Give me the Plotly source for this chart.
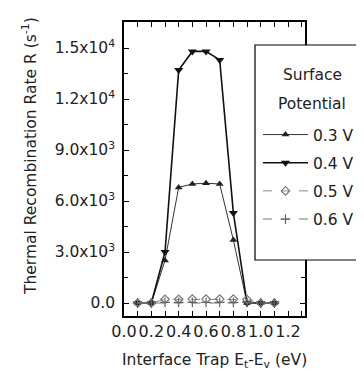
import plotly.graph_objects as go

x_vals = [0.1, 0.2, 0.3, 0.4, 0.5, 0.6, 0.7, 0.8, 0.9, 1.0, 1.1]
r_03 = [0, 0, 2500, 6800, 7000, 7050, 7000, 3700, 0, 0, 0]
r_04 = [0, 0, 3000, 13700, 14800, 14800, 14300, 5300, 0, 0, 0]
r_05 = [0, 0, 220, 220, 230, 230, 230, 230, 200, 0, 0]
r_06 = [0, 0, 40, 40, 40, 40, 40, 40, 40, 0, 0]
series_names = ["0.3 V", "0.4 V", "0.5 V", "0.6 V"]

y_tickvals = [0, 3000, 6000, 9000, 12000, 15000]
y_ticktext = ["0.0", "3.0x10<sup>3</sup>", "6.0x10<sup>3</sup>", "9.0x10<sup>3</sup>",
              "1.2x10<sup>4</sup>", "1.5x10<sup>4</sup>"]
y_minor = [1500, 4500, 7500, 10500, 13500, 16500]
x_tickvals = [0.0, 0.2, 0.4, 0.6, 0.8, 1.0, 1.2]
x_ticktext = ["0.0", "0.2", "0.4", "0.6", "0.8", "1.0", "1.2"]
x_minor = [0.1, 0.3, 0.5, 0.7, 0.9, 1.1, 1.3]

FONT = "DejaVu Sans"
TXT = "#222222"

W, H = 364, 370
ML, MR, MT, MB = 116, 67, 14, 62
PW, PH = W - ML - MR, H - MT - MB


def px_to_paper_x(px):
    return (px - ML) / PW


def px_to_paper_y(py):
    return (H - MB - py) / PH


styles = [
    dict(line=dict(color="#333333", width=1), marker=dict(symbol="triangle-up", size=7, color="#222222")),
    dict(line=dict(color="#111111", width=1.6), marker=dict(symbol="triangle-down", size=8, color="#111111")),
    dict(line=dict(color="#888888", width=1, dash="dash"), marker=dict(symbol="diamond-open", size=6.5, color="#777777", line=dict(width=1.2))),
    dict(line=dict(color="#777777", width=1, dash="dash"), marker=dict(symbol="cross-thin-open", size=7, color="#666666", line=dict(width=1.2))),
]

fig = go.Figure()
for name, ys, st in zip(series_names, [r_03, r_04, r_05, r_06], styles):
    fig.add_trace(go.Scatter(x=x_vals, y=ys, name=name, mode="lines+markers",
                             legendgroup=name, **st))

axis_common = dict(showline=True, linecolor="black", linewidth=1.5, mirror="allticks",
                   ticks="inside", ticklen=5, tickcolor="black", tickwidth=1.2,
                   showgrid=False, zeroline=False)

fig.update_xaxes(range=[0, 1.324], tickvals=x_tickvals, ticktext=x_ticktext, tickangle=0,
                 tickfont=dict(family=FONT, size=16, color=TXT),
                 minor=dict(tickvals=x_minor, ticks="inside", ticklen=5, tickcolor="black", tickwidth=1.2),
                 **axis_common)
fig.update_yaxes(range=[-765, 16530], tickvals=y_tickvals, ticktext=y_ticktext,
                 tickfont=dict(family=FONT, size=15.5, color=TXT), ticklabelstandoff=4,
                 minor=dict(tickvals=y_minor, ticks="inside", ticklen=4, tickcolor="black", tickwidth=1.2),
                 **axis_common)

fig.add_annotation(text="Thermal Recombination Rate R (s<sup>-1</sup>)", xref="paper", yref="paper",
                   x=px_to_paper_x(22), y=px_to_paper_y(148), textangle=-90, showarrow=False,
                   font=dict(family=FONT, size=15.5, color=TXT), xanchor="center", yanchor="middle")
fig.add_annotation(text="Interface Trap E<sub>t</sub>-E<sub>v</sub> (eV)", xref="paper", yref="paper",
                   x=0.5, y=px_to_paper_y(353), showarrow=False,
                   font=dict(family=FONT, size=15.5, color=TXT), xanchor="center", yanchor="middle")

# legend frame and title
fig.add_shape(type="rect", xref="paper", yref="paper",
              x0=px_to_paper_x(247), x1=px_to_paper_x(362),
              y0=px_to_paper_y(252), y1=px_to_paper_y(37),
              fillcolor="white", line=dict(color="black", width=1.2), layer="above")
for txt, yy in [("Surface", 67), ("Potential", 96)]:
    fig.add_annotation(text=txt, xref="paper", yref="paper", x=px_to_paper_x(304), y=px_to_paper_y(yy),
                       showarrow=False, xanchor="center", yanchor="middle",
                       font=dict(family=FONT, size=15.5, color=TXT))

fig.update_layout(
    width=W, height=H,
    margin=dict(l=ML, r=MR, t=MT, b=MB, autoexpand=False),
    paper_bgcolor="white", plot_bgcolor="white",
    showlegend=True,
    legend=dict(xref="container", yref="container", x=250/W, y=1 - 110/H,
                xanchor="left", yanchor="top",
                bgcolor="rgba(0,0,0,0)", borderwidth=0,
                font=dict(family=FONT, size=15.5, color=TXT),
                itemwidth=45, tracegroupgap=5, traceorder="grouped"),
)

fig.write_html("out.html")
